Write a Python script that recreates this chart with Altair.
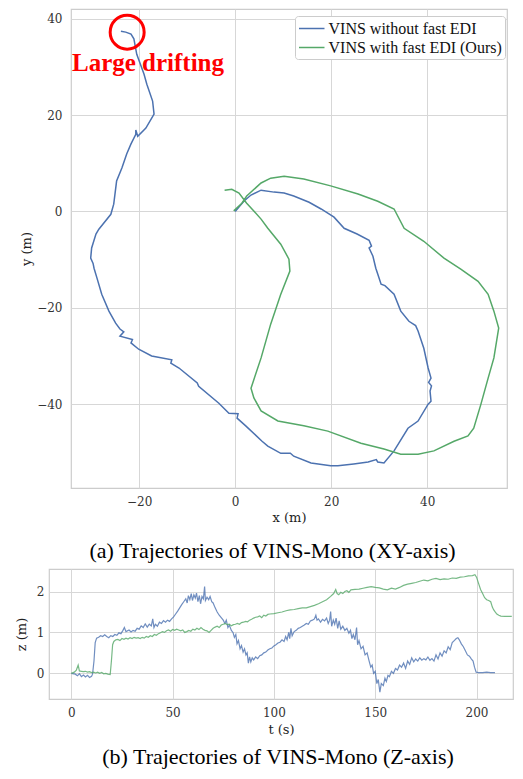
import altair as alt
import pandas as pd

# ---------------- data ----------------
series_names = ["VINS without fast EDI", "VINS with fast EDI (Ours)"]
series_colors = ["#4C72B0", "#55A868"]

blue_x = [0.0, 1.8, 3.3, 5.4, 8.1, 10.2, 12.2, 15.4, 17.9, 20.6, 22.7, 25.4, 27.9, 28.4, 27.9,
          28.7, 29.3, 29.7, 30.4, 31.2, 33.1, 34.5, 36.2, 37.6, 38.1, 39.3, 40.2, 40.8, 40.3,
          40.9, 40.6, 40.8, 40.2, 38.1, 36.0, 33.1, 31.0, 29.7, 29.4, 27.7, 24.7, 21.4, 19.9,
          15.8, 12.2, 11.5, 9.5, 6.8, 5.6, 2.2, 0.4, 0.6, -1.3, -3.4, -7.6, -7.9, -11.7, -13.4,
          -13.2, -17.4, -20.1, -21.7, -21.4, -24.0, -23.2, -24.0, -24.9, -26.3, -27.8, -28.8,
          -29.4, -29.6, -30.1, -29.9, -29.0, -28.4, -25.9, -25.3, -24.7, -23.6, -22.6, -21.7,
          -20.7, -20.7, -20.3, -18.6, -16.9, -17.2, -18.4, -19.0, -20.5, -21.1, -21.7, -22.8, -23.8]
blue_y = [0.0, 2.1, 3.4, 4.4, 4.0, 3.8, 3.2, 1.9, 0.5, -1.2, -3.5, -4.7, -6.0, -7.2, -7.6,
          -9.3, -11.8, -13.0, -15.1, -15.4, -17.2, -20.7, -22.8, -23.7, -24.8, -28.4, -32.5, -34.6, -35.5,
          -36.2, -37.3, -39.4, -40.0, -43.5, -45.0, -49.7, -52.2, -52.0, -51.5, -52.0, -52.4, -52.8, -52.8,
          -52.2, -50.8, -50.2, -50.2, -48.7, -47.7, -44.5, -42.9, -42.0, -41.9, -39.8, -36.3, -35.6, -32.5, -31.5,
          -30.8, -30.0, -28.6, -27.3, -26.6, -25.9, -25.0, -24.4, -23.2, -20.7, -17.2, -13.8,
          -11.8, -10.8, -9.7, -7.6, -4.7, -3.7, -0.6, 1.5, 6.3, 9.0, 11.9, 14.0,
          16.0, 16.9, 15.6, 17.3, 20.2, 22.9, 26.4, 28.5, 32.6, 35.8, 36.8, 37.2, 37.4]

green_x = [-2.2, -0.7, 0.8, 2.4, 3.5, 5.4, 6.8, 9.5, 11.2, 11.4, 9.5, 7.4, 5.4, 3.3, 3.9, 5.4,
           8.9, 14.3, 19.3, 26.2, 31.0, 34.5, 38.1, 41.4, 45.6, 48.5, 49.7, 51.2, 52.7, 53.9,
           54.9, 53.9, 52.7, 50.6, 47.0, 43.5, 39.3, 35.2, 33.1, 29.7, 25.6, 19.9, 14.3, 10.2,
           7.4, 5.4, 2.4, 1.4, -0.3]
green_y = [4.4, 4.6, 3.8, 1.7, 0.5, -1.6, -3.5, -6.8, -9.9, -12.4, -17.2, -23.4, -30.4, -36.7, -38.7, -41.4,
           -43.5, -44.5, -45.6, -48.1, -49.3, -50.4, -50.4, -49.7, -47.7, -46.6, -45.0, -40.0, -34.6, -30.4,
           -24.2, -20.7, -17.2, -14.5, -12.0, -9.7, -6.2, -3.5, 0.5, 2.1, 3.6, 5.3, 6.7, 7.3,
           6.9, 5.9, 3.2, 1.7, 0.1]

blue_t = [0, 2, 3, 4, 5, 6, 7, 8, 9, 10, 10.5, 11.2, 11.8, 12.5, 13.5, 14.5, 15.5, 16.5, 17.5, 18.5,
          19.5, 20.5, 21.5, 22.5, 23.5, 24.5, 25.5, 26.2, 27, 28.5, 29.5, 30.5, 31.5, 32.5, 33.5, 34.5,
          35.5, 36.5, 37.5, 38.5, 39.5, 40.2, 40.8, 41.5, 42.5, 43.5, 44.5, 45.5, 46.5, 47.5, 48.5,
          49.5, 50.5, 51.5, 52.5, 53.5, 54.5, 55.5, 56.5, 57.2, 57.8, 58.5, 59.2, 59.8, 60.5, 61.2,
          61.8, 62.5, 63.2, 63.8, 64.5, 65.2, 65.8, 66.2, 67, 67.8, 68.5, 69.3, 70, 71, 72, 73, 74,
          75, 75.8, 76.5, 77.3, 78, 79, 79.8, 80.5, 81.2, 81.8, 82.5, 83.3, 84, 84.8, 85.5, 86.2,
          86.8, 87.4, 88, 88.6, 89.3, 90, 91, 92, 93, 94, 95, 96, 97, 98, 99, 100, 101, 102, 103,
          104, 105, 105.8, 106.5, 107.3, 107.8, 108.4, 109, 110, 111, 112, 113, 114, 115, 116, 117,
          118, 119, 120, 120.7, 121.3, 122, 123, 124, 125, 126, 126.8, 127.5, 128, 128.5, 129.3,
          130, 130.7, 131.5, 132.2, 133, 134, 135, 136, 137, 137.8, 138.5, 139.2, 140, 140.8, 141.3,
          142, 143, 144, 145, 146, 147, 147.8, 148.5, 149.2, 150, 150.8, 151.5, 152.3, 153, 154,
          154.8, 155.5, 156.3, 157, 158, 159, 160, 161, 162, 163, 164, 165, 166, 167, 168, 169,
          170, 171, 172, 173, 174, 175, 176, 177, 178, 179, 180, 181, 182, 183, 184, 185, 186, 187,
          188, 189, 190, 190.8, 191.5, 192.5, 193.5, 194.5, 195.5, 196.5, 197.5, 198.3, 199, 199.8,
          201, 203, 205, 207, 209.1]
blue_z = [0, -0.02, -0.06, -0.01, -0.08, -0.04, -0.09, -0.05, -0.1, -0.07, -0.02, 0.3, 0.75, 0.86,
          0.88, 0.92, 0.9, 0.94, 0.9, 0.87, 0.92, 0.9, 0.95, 0.93, 0.99, 0.97, 1.05, 1.12, 1.02, 1.06,
          1.01, 1.05, 1.03, 1.1, 1.08, 1.16, 1.12, 1.21, 1.13, 1.2, 1.16, 1.33, 1.12, 1.2, 1.15, 1.25,
          1.22, 1.29, 1.25, 1.3, 1.27, 1.33, 1.38, 1.45, 1.52, 1.6, 1.68, 1.75, 1.82, 1.72, 1.9, 1.8,
          1.95, 1.78, 1.92, 1.84, 1.96, 1.75, 1.9, 1.7, 1.88, 1.82, 2.12, 1.78, 1.86, 1.8, 1.88, 1.75,
          1.72, 1.6, 1.5, 1.42, 1.36, 1.3, 1.22, 1.3, 1.12, 1.18, 1.05, 1.0, 0.88, 0.95, 0.72, 0.8,
          0.6, 0.68, 0.52, 0.6, 0.45, 0.5, 0.25, 0.4, 0.28, 0.38, 0.33, 0.4, 0.36, 0.43, 0.45, 0.5,
          0.52, 0.57, 0.6, 0.62, 0.67, 0.7, 0.74, 0.76, 0.82, 0.78, 0.9, 0.82, 1.0, 0.85, 1.1, 0.92,
          1.02, 1.05, 1.1, 1.12, 1.15, 1.18, 1.22, 1.2, 1.28, 1.3, 1.33, 1.42, 1.3, 1.33, 1.25, 1.32,
          1.28, 1.35, 1.22, 1.3, 1.51, 1.15, 1.3, 1.2, 1.35, 1.1, 1.28, 1.08, 1.15, 1.05, 1.1, 0.98,
          1.05, 0.85, 0.95, 0.82, 1.12, 0.7, 0.8, 0.6, 0.66, 0.45, 0.5, 0.3, 0.15, 0.2, 0.0, 0.05,
          -0.25, -0.15, -0.46, -0.25, -0.3, -0.12, -0.2, -0.05, -0.08, 0.05, 0.0, 0.12, 0.08, 0.2,
          0.15, 0.25, 0.12, 0.3, 0.22, 0.38, 0.28, 0.35, 0.3, 0.38, 0.32, 0.36, 0.33, 0.4, 0.32, 0.36,
          0.3, 0.45, 0.35, 0.5, 0.42, 0.55, 0.5, 0.65, 0.58, 0.75, 0.8, 0.85, 0.87, 0.82, 0.72, 0.65,
          0.55, 0.45, 0.42, 0.35, 0.3, 0.15, 0.03, 0.02, 0.02, 0.03, 0.02, 0.02]

green_t = [0, 1.5, 2.5, 3.4, 4, 5, 6, 7, 8, 9, 10, 11, 12, 13, 14, 15, 16, 17, 18, 19.2, 19.8, 20.4,
           21, 22, 23, 24, 25, 26, 27, 28, 29, 30, 31, 32, 33, 34, 35, 36, 37, 38, 39, 40, 41, 42,
           43, 44, 45, 46, 47, 48, 49, 50, 51, 52, 53, 54, 55, 56, 57, 58, 59, 60, 61, 62, 63, 64,
           65, 66, 67, 68, 69, 70, 71, 72, 73, 74, 75, 76, 77, 78, 79, 80, 81, 82, 83, 84, 85, 86,
           87, 88, 89, 90, 91, 92, 93, 94, 95, 96, 97, 98, 100, 102, 104, 106, 108, 110, 112, 114,
           116, 118, 120, 122, 124, 126, 128, 129.5, 130.5, 131.2, 132, 133, 134, 135, 136, 137, 138,
           140, 142, 144, 146, 148, 150, 152, 154, 156, 158, 160, 162, 164, 166, 168, 170, 172, 174,
           176, 178, 180, 182, 184, 186, 188, 190, 192, 194, 196, 198, 199.2, 200, 201, 202, 203,
           204, 205, 206, 207, 207.8, 208.5, 209.2, 210, 211, 212, 214, 216, 217.4]
green_z = [0, 0.03, 0.08, 0.2, 0.06, 0.05, 0.04, 0.05, 0.03, 0.04, 0.02, 0.03, 0.01, 0.03, 0.0, 0.02,
           -0.01, 0.0, -0.02, -0.03, 0.3, 0.7, 0.78, 0.82, 0.83, 0.8, 0.85, 0.83, 0.86, 0.84, 0.87,
           0.85, 0.88, 0.86, 0.87, 0.85, 0.88, 0.86, 0.9, 0.88, 0.92, 0.9, 0.95, 0.93, 0.97, 0.99,
           1.02, 1.0, 1.04, 1.06, 1.03, 1.07, 1.05, 1.08, 1.06, 1.04, 1.06, 1.0, 1.02, 1.05, 1.03,
           1.08, 1.06, 1.1, 1.07, 1.12, 1.08, 1.05, 1.04, 1.0, 1.05, 1.1, 1.13, 1.15, 1.12, 1.18, 1.2,
           1.22, 1.19, 1.2, 1.16, 1.19, 1.2, 1.22, 1.2, 1.24, 1.25, 1.27, 1.26, 1.3, 1.32, 1.35, 1.37,
           1.38, 1.4, 1.36, 1.42, 1.4, 1.44, 1.45, 1.46, 1.48, 1.5, 1.53, 1.55, 1.56, 1.58, 1.6, 1.6,
           1.63, 1.66, 1.7, 1.75, 1.8, 1.88, 1.95, 2.05, 1.95, 1.92, 1.98, 1.95, 2.0, 2.02, 1.98, 2.04,
           2.05, 2.06, 2.08, 2.1, 2.12, 2.1, 2.09, 2.06, 2.04, 2.08, 2.06, 2.1, 2.15, 2.18, 2.2, 2.22,
           2.25, 2.28, 2.26, 2.3, 2.32, 2.29, 2.31, 2.3, 2.33, 2.32, 2.35, 2.36, 2.38, 2.39, 2.41, 2.35,
           2.2, 2.05, 1.95, 1.85, 1.8, 1.78, 1.75, 1.62, 1.55, 1.5, 1.45, 1.42, 1.4, 1.39, 1.39, 1.39]

xy_x_ticks = [-20, 0, 20, 40]
xy_y_ticks = [-40, -20, 0, 20, 40]
z_t_ticks = [0, 50, 100, 150, 200]
z_z_ticks = [0, 1, 2]

drift_label = ["Large drifting"]
drift_circle_x = [-22.5]
drift_circle_y = [37.2]
drift_text_x = [-34.0]
drift_text_y = [30.8]

caption_a = "(a) Trajectories of VINS-Mono (XY-axis)"
caption_b = "(b) Trajectories of VINS-Mono (Z-axis)"

# ---------------- tables ----------------
xy_df = pd.concat([
    pd.DataFrame({"x": blue_x, "y": blue_y, "s": series_names[0], "i": range(len(blue_x))}),
    pd.DataFrame({"x": green_x, "y": green_y, "s": series_names[1], "i": range(len(green_x))}),
])
z_df = pd.concat([
    pd.DataFrame({"t": blue_t, "z": blue_z, "s2": series_names[0], "i": range(len(blue_t))}),
    pd.DataFrame({"t": green_t, "z": green_z, "s2": series_names[1], "i": range(len(green_t))}),
])
circ_df = pd.DataFrame({"x": drift_circle_x, "y": drift_circle_y})
text_df = pd.DataFrame({"x": drift_text_x, "y": drift_text_y, "label": drift_label})

GRID = "#d7d7d7"
FRAME = "#cccccc"
TICKFONT = "DejaVu Serif"


def axis(values, title, label_pad, title_pad):
    return alt.Axis(values=values, title=title, grid=True, gridColor=GRID, gridWidth=1,
                    ticks=False, domain=False, labelFont=TICKFONT, labelFontSize=12,
                    labelColor="#333333", labelPadding=label_pad, titleFont=TICKFONT,
                    titleFontSize=13, titleFontWeight="normal", titleColor="#222222",
                    titlePadding=title_pad, format="d")


color = alt.Color("s:N", title=None,
                  scale=alt.Scale(domain=series_names, range=series_colors),
                  legend=alt.Legend(orient="none", legendX=224, legendY=7,
                                    symbolType="M-1,0H2", symbolSize=289,
                                    symbolStrokeWidth=1.5,
                                    labelFont="Liberation Serif", labelFontSize=16,
                                    labelColor="#111111", labelOffset=11.5, padding=3,
                                    rowPadding=1, strokeColor=FRAME, fillColor="white",
                                    cornerRadius=3, labelLimit=300))

xs = alt.Scale(domain=[-34.2, 56.63], nice=False, zero=False)
ys = alt.Scale(domain=[-57.4, 42.0], nice=False, zero=False)

xy_lines = alt.Chart(xy_df).mark_line(strokeWidth=1.5, clip=True).encode(
    x=alt.X("x:Q", scale=xs, axis=axis(xy_x_ticks, "x (m)", 8, 4)),
    y=alt.Y("y:Q", scale=ys, axis=axis(xy_y_ticks, "y (m)", 9, 3)),
    color=color,
    order=alt.Order("i:Q"),
)
circle = alt.Chart(circ_df).mark_point(shape="circle", filled=False, size=1156,
                                       strokeWidth=3, color="#ff0000", opacity=1).encode(
    x=alt.X("x:Q", scale=xs), y=alt.Y("y:Q", scale=ys))
label = alt.Chart(text_df).mark_text(align="left", baseline="middle", font="Liberation Serif",
                                     fontWeight="bold", fontSize=25, color="#ff0000").encode(
    x=alt.X("x:Q", scale=xs), y=alt.Y("y:Q", scale=ys), text="label:N")

top = alt.layer(xy_lines, circle, label).properties(
    width=436, height=479,
    view=alt.ViewBackground(stroke=FRAME, strokeWidth=1.2),
    title=alt.TitleParams(caption_a, orient="bottom", font="Liberation Serif", fontSize=22,
                          fontWeight="normal", color="#000000", offset=17, dx=-16.5),
)

ts = alt.Scale(domain=[-11, 218], nice=False, zero=False)
zs = alt.Scale(domain=[-0.627, 2.55], nice=False, zero=False)

bottom = alt.Chart(z_df).mark_line(strokeWidth=1.2, opacity=0.8, clip=True).encode(
    x=alt.X("t:Q", scale=ts, axis=axis(z_t_ticks, "t (s)", 8, 5)),
    y=alt.Y("z:Q", scale=zs, axis=axis(z_z_ticks, "z (m)", 5, 8)),
    color=alt.Color("s2:N", scale=alt.Scale(domain=series_names, range=series_colors), legend=None),
    order=alt.Order("i:Q"),
).properties(
    width=464, height=130,
    view=alt.ViewBackground(stroke=FRAME, strokeWidth=1.2),
    title=alt.TitleParams(caption_b, orient="bottom", font="Liberation Serif", fontSize=22,
                          fontWeight="normal", color="#000000", offset=11, frame="group", dx=-3),
)

dummy = alt.Chart(pd.DataFrame({"d": [0]})).mark_point(opacity=0, size=4).encode(
    x=alt.value(0), y=alt.value(0)
).properties(width=1, height=1, view=alt.ViewBackground(strokeOpacity=0))

row1 = alt.hconcat(dummy, top, spacing=-30).resolve_scale(color="independent")
chart = alt.vconcat(row1, bottom, spacing=5).resolve_scale(color="independent").properties(
    padding={"left": 6, "top": 0, "right": 0, "bottom": 0}
).configure(background="white")

chart.save("out.html", embed_options={"renderer": "svg", "actions": False})
